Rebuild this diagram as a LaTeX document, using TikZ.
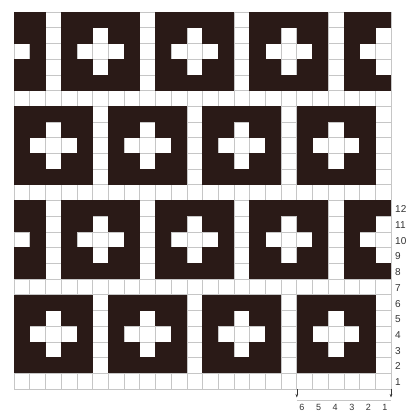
\documentclass[tikz,border=0pt]{standalone}
\usepackage{fontspec}
\setmainfont{Liberation Sans}
\usetikzlibrary{arrows.meta}
\definecolor{dk}{HTML}{2A1A17}
\definecolor{gl}{HTML}{C6C6C6}
\definecolor{lbl}{HTML}{333333}
\tikzset{
  gridline/.style={gl, line width=0.6pt},
  darkcell/.style={fill=dk},
  rowlabel/.style={anchor=west, inner sep=0pt, text=lbl, font=\fontsize{10}{10}\selectfont},
  collabel/.style={anchor=center, inner sep=0pt, text=lbl, font=\fontsize{9}{9}\selectfont},
  ticksty/.style={line width=0.6pt, lbl, -{Stealth[length=3.5pt,width=2.6pt]}},
  dimline/.style={gl, line width=0.5pt}
}
\begin{document}
\begin{tikzpicture}[x=1pt,y=-1pt]
\useasboundingbox (0,0) rectangle (410,413);
\fill[white] (0,0) rectangle (410,413);
\def\cw{15.71}
% grid lines
\foreach \k in {0,...,24}{
  \draw[gridline] (14+\cw*\k,11.96) -- (14+\cw*\k,389);
  \draw[gridline] (14,389-\cw*\k) -- (391,389-\cw*\k);
}
% dark cells
\foreach \i in {0,...,23}{
  \foreach \j in {0,...,23}{
    \pgfmathtruncatemacro{\c}{24-\i}
    \pgfmathtruncatemacro{\rr}{mod(\j,12)+1}
    \pgfmathtruncatemacro{\m}{mod(\c,6)}
    \pgfmathtruncatemacro{\isdark}{((\rr>=2)&&(\rr<=6)&&(\m!=1)&&!(((\rr==4)&&(\m>=3)&&(\m<=5))||(((\rr==3)||(\rr==5))&&(\m==4)))) || ((\rr>=8)&&(\m!=4)&&!(((\rr==10)&&(\m<=2))||(((\rr==9)||(\rr==11))&&(\m==1))))}
    \ifnum\isdark=1
      \fill[darkcell] (14+\cw*\i-0.2,389-\cw*\j+0.2) rectangle (14+\cw*\i+\cw+0.2,389-\cw*\j-\cw-0.2);
    \fi
  }
}
% row labels
\foreach \r in {1,...,12}{
  \node[rowlabel] (r\r) at (395,389-\cw*\r+\cw*0.5+1) {\r};
}
% bracket
\coordinate (bl) at (296.8,389);
\coordinate (br) at (391,389);
\coordinate (blb) at (296.8,397.5);
\coordinate (brb) at (391,397.5);
\coordinate (bll) at (296.8,400.5);
\coordinate (brl) at (391,400.5);
\draw[ticksty] (bl) -- (blb);
\draw[ticksty] (br) -- (brb);
\draw[dimline] (bll) -- (brl);
% column labels
\foreach \n [count=\k from 0] in {6,5,4,3,2,1}{
  \node[collabel] (c\n) at (302+16.6*\k,407.3) {\n};
}
\end{tikzpicture}
\end{document}
